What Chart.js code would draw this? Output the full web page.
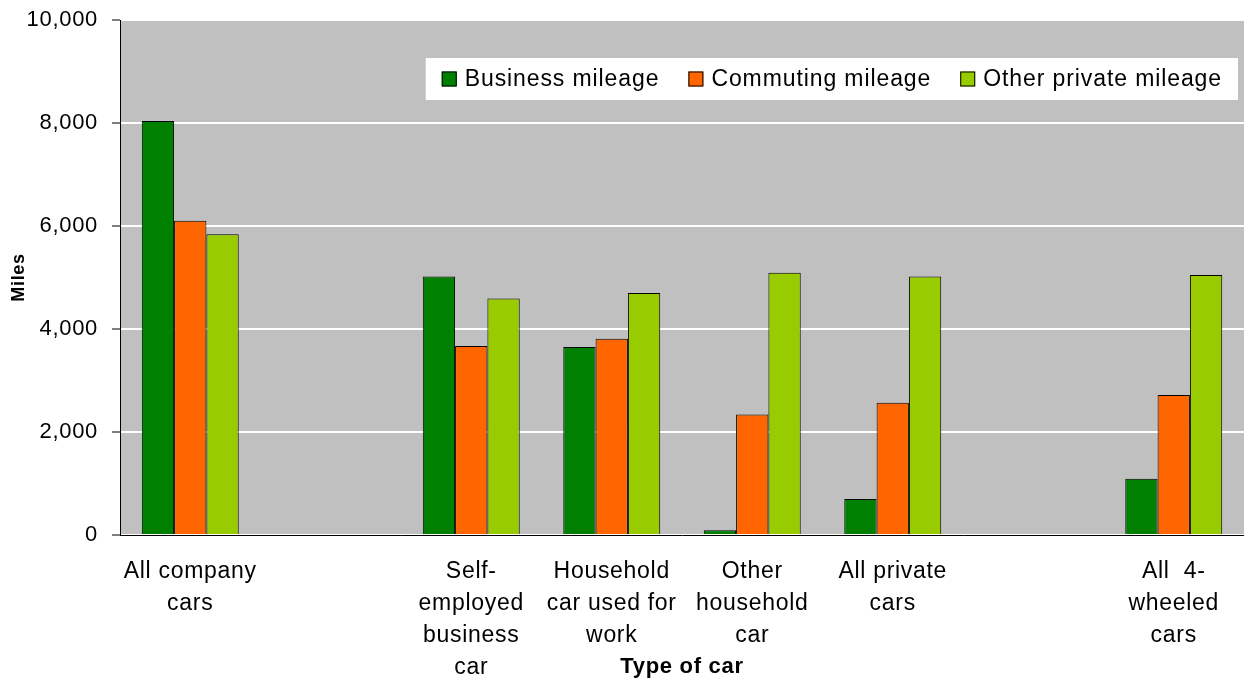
<!DOCTYPE html>
<html>
<head>
<meta charset="utf-8">
<title>Mileage by type of car</title>
<script src="https://cdn.jsdelivr.net/npm/chart.js@4"></script>
<style>
	html, body { margin: 0; padding: 0; background: #ffffff; overflow: hidden; }
	#wrap { width: 1244px; height: 682px; position: relative; }
</style>
</head>
<body>
<div id="wrap"><canvas id="chart"></canvas></div>
<script>
const categories = [
	["All company", "cars"],
	"",
	["Self-", "employed", "business", "car"],
	["Household", "car used for", "work"],
	["Other", "household", "car"],
	["All private", "cars"],
	"",
	["All  4-", "wheeled", "cars"],
];
const businessMileage = [8040, null, 5020, 3650, 90, 700, null, 1090];
const commutingMileage = [6100, null, 3670, 3810, 2340, 2570, null, 2720];
const otherPrivateMileage = [5840, null, 4590, 4700, 5090, 5020, null, 5050];
const seriesNames = ["Business mileage", "Commuting mileage", "Other private mileage"];
const yTicks = [0, 2000, 4000, 6000, 8000, 10000];

const FONT = "'Liberation Sans', Arial, sans-serif";
const SPACING = "0.7px";

// the original text is a little wider than plain Arial
const tracking = {
	id: "tracking",
	beforeLayout(chart) {
		chart.ctx.letterSpacing = SPACING;
	},
	beforeDraw(chart) {
		chart.ctx.letterSpacing = SPACING;
	},
};

// grey plot background + top border
const plotBg = {
	id: "plotBg",
	beforeDraw(chart) {
		const { ctx, chartArea: a } = chart;
		ctx.save();
		ctx.fillStyle = "#c0c0c0";
		ctx.fillRect(a.left, a.top, a.right - a.left, a.bottom - a.top);
		ctx.strokeStyle = "#808080";
		ctx.lineWidth = 1;
		ctx.beginPath();
		ctx.moveTo(a.left, a.top + 0.5);
		ctx.lineTo(a.right, a.top + 0.5);
		ctx.stroke();
		ctx.restore();
	},
};

// legend box drawn inside the plot, top right
const boxLegend = {
	id: "boxLegend",
	afterDraw(chart) {
		const ctx = chart.ctx;
		ctx.save();
		ctx.font = "23px " + FONT;
		ctx.letterSpacing = "0.9px";
		ctx.textBaseline = "middle";
		const sq = 15;
		const gapSq = 8;
		const gapItem = 29;
		let total = 0;
		const widths = chart.data.datasets.map((ds) => ctx.measureText(ds.label).width);
		widths.forEach((w, i) => {
			total += sq + gapSq + w + (i < widths.length - 1 ? gapItem : 0);
		});
		const padX = 16;
		const boxW = total + padX * 2;
		const boxH = 42;
		const boxX = 1238 - boxW;
		const boxY = 58;
		ctx.fillStyle = "#ffffff";
		ctx.fillRect(boxX, boxY, boxW, boxH);
		let x = boxX + padX;
		const cy = boxY + boxH / 2;
		chart.data.datasets.forEach((ds, i) => {
			ctx.fillStyle = ds.backgroundColor;
			ctx.fillRect(x, cy - sq / 2, sq, sq);
			ctx.strokeStyle = "#000000";
			ctx.lineWidth = 1;
			ctx.strokeRect(x + 0.5, cy - sq / 2 + 0.5, sq - 1, sq - 1);
			x += sq + gapSq;
			ctx.fillStyle = "#000000";
			ctx.fillText(ds.label, x, cy + 1);
			x += widths[i] + gapItem;
		});
		ctx.restore();
	},
};

document.addEventListener("DOMContentLoaded", function () {
	const ctx = document.getElementById("chart").getContext("2d");
	const colors = ["#008000", "#ff6600", "#99cc00"];
	const values = [businessMileage, commutingMileage, otherPrivateMileage];

	new Chart(ctx, {
		type: "bar",
		data: {
			labels: categories,
			datasets: seriesNames.map((name, i) => ({
				label: name,
				data: values[i],
				backgroundColor: colors[i],
				borderColor: "#000000",
				borderWidth: 1,
				barPercentage: 1,
				categoryPercentage: 0.69,
			})),
		},
		options: {
			responsive: true,
			maintainAspectRatio: false,
			animation: false,
			layout: { padding: { top: 20, right: 0, left: 8, bottom: 0 } },
			plugins: {
				legend: { display: false },
				tooltip: { enabled: false },
			},
			scales: {
				x: {
					grid: { display: false },
					border: { color: "#000000", width: 1 },
					ticks: {
						color: "#000000",
						font: { family: FONT, size: 23, lineHeight: 1.39 },
						padding: 13,
						maxRotation: 0,
						autoSkip: false,
					},
					title: {
						display: true,
						text: "Type of car",
						color: "#000000",
						font: { family: FONT, size: 22, weight: "bold" },
						padding: { top: 0, bottom: 2 },
					},
					afterFit(scale) {
						scale.height = 147;
					},
				},
				y: {
					min: 0,
					max: 10000,
					afterBuildTicks(scale) {
						scale.ticks = yTicks.map((v) => ({ value: v }));
					},
					grid: {
						color: "#ffffff",
						lineWidth: 2,
						tickColor: "#000000",
						tickLength: 8,
						tickWidth: 1,
					},
					border: { color: "#000000", width: 1 },
					ticks: {
						color: "#000000",
						font: { family: FONT, size: 22 },
						padding: 14,
						callback: (v) => v.toLocaleString("en-US"),
					},
					title: {
						display: true,
						text: "Miles",
						color: "#000000",
						font: { family: FONT, size: 18, weight: "bold" },
						padding: { top: 0, bottom: 0 },
					},
					afterFit(scale) {
						scale.width = 112;
						// let the top label hang above the plot instead of pushing it down
						scale.paddingTop = 0;
						scale.paddingBottom = 0;
					},
				},
			},
		},
		plugins: [tracking, plotBg, boxLegend],
	});
});
</script>
</body>
</html>
